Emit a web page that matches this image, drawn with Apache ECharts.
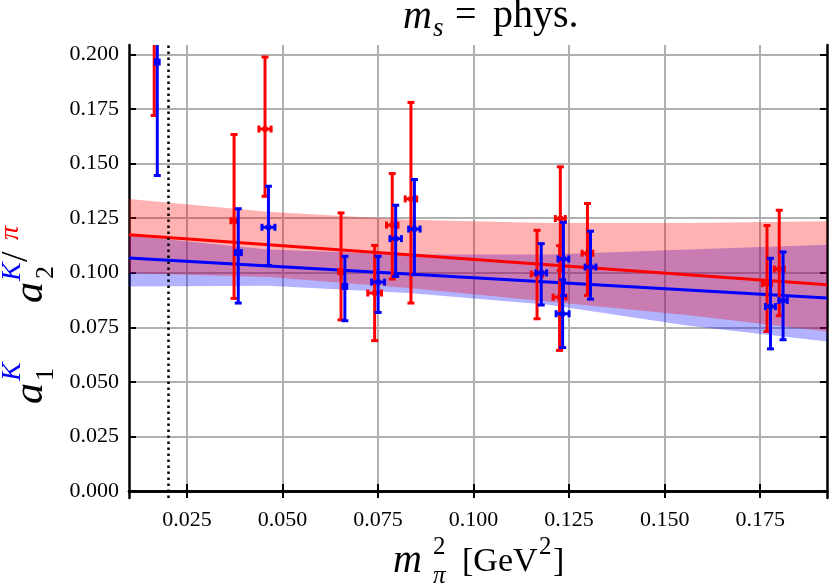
<!DOCTYPE html>
<html>
<head>
<meta charset="utf-8">
<script src="https://cdn.jsdelivr.net/npm/echarts@6/dist/echarts.min.js"></script>
<style>
html,body{margin:0;padding:0;background:#fff;}
#chart{width:830px;height:586px;}
</style>
</head>
<body>
<div id="chart"></div>
<script>
// data (x = m_pi^2 in GeV^2)
var xTicks = [0.025, 0.05, 0.075, 0.1, 0.125, 0.15, 0.175];
var yTicks = [0, 0.025, 0.05, 0.075, 0.1, 0.125, 0.15, 0.175, 0.2];
var physPoint = 0.0188;

var redX    = [0.0164, 0.0373, 0.0454, 0.0653, 0.0741, 0.0787, 0.0836, 0.1166, 0.1227, 0.1225, 0.1298, 0.1768, 0.1800];
var redY    = [0.222, 0.1238, 0.1658, 0.1005, 0.0907, 0.1218, 0.1338, 0.0994, 0.1248, 0.0888, 0.1089, 0.0950, 0.1017];
var redXErr = [0.0005, 0.0008, 0.0016, 0.0006, 0.0018, 0.0015, 0.0015, 0.0015, 0.0013, 0.0017, 0.0014, 0.0012, 0.0013];
var redLo   = [0.172, 0.0882, 0.135, 0.0784, 0.0689, 0.0971, 0.0861, 0.0789, 0.101, 0.0644, 0.0896, 0.0731, 0.0803];
var redHi   = [0.27, 0.1633, 0.1988, 0.1274, 0.1125, 0.1454, 0.178, 0.1194, 0.1485, 0.1124, 0.1317, 0.1216, 0.1286];

var blueX    = [0.0172, 0.0384, 0.0463, 0.0663, 0.0750, 0.0796, 0.0845, 0.1177, 0.1235, 0.1233, 0.1306, 0.1777, 0.1810];
var blueY    = [0.1965, 0.1092, 0.1208, 0.0937, 0.0957, 0.1156, 0.1200, 0.0999, 0.1063, 0.0812, 0.1026, 0.0845, 0.0873];
var blueXErr = [0.0005, 0.0008, 0.0017, 0.0005, 0.0017, 0.0015, 0.0015, 0.0014, 0.0014, 0.0017, 0.0014, 0.0013, 0.0011];
var blueLo   = [0.1445, 0.0861, 0.1033, 0.078, 0.0818, 0.0983, 0.0991, 0.0852, 0.0895, 0.0657, 0.0879, 0.0651, 0.0693];
var blueHi   = [0.249, 0.1293, 0.1396, 0.1075, 0.1075, 0.1309, 0.1427, 0.1133, 0.1231, 0.0967, 0.119, 0.1066, 0.1095];

// fit lines and their error bands
var fitX = [0.0098, 0.1925];
var redFit = [0.1174, 0.0945];
var blueFit = [0.1067, 0.0884];

var bandX = [0.0098, 0.0462, 0.0829, 0.1196, 0.1563, 0.1925];
var redBandHi = [0.1338, 0.1279, 0.1243, 0.1228, 0.1228, 0.1236];
var redBandLo = [0.0998, 0.0980, 0.0930, 0.0868, 0.0805, 0.0731];
var blueBandHi = [0.1170, 0.1106, 0.1083, 0.1083, 0.1106, 0.1128];
var blueBandLo = [0.0937, 0.0940, 0.0907, 0.0853, 0.0757, 0.0685];

var RED = '#ff0000', BLUE = '#0000ff';
var SERIF = 'Liberation Serif';

function zip(xs, ys) {
  return xs.map(function (x, i) { return [x, ys[i]]; });
}

function pointRows(xs, ys, xe, lo, hi) {
  return xs.map(function (x, i) { return [x, ys[i], xe[i], lo[i], hi[i]]; });
}

function errorBar(color) {
  return function (params, api) {
    var x = api.value(0), y = api.value(1), xe = api.value(2);
    var c = api.coord([x, y]);
    var top = api.coord([x, api.value(4)]);
    var bot = api.coord([x, api.value(3)]);
    var l = api.coord([x - xe, y]);
    var r = api.coord([x + xe, y]);
    var cap = 3.5;
    var st = { stroke: color, lineWidth: 3 };
    function seg(x1, y1, x2, y2) {
      return { type: 'line', shape: { x1: x1, y1: y1, x2: x2, y2: y2 }, style: st };
    }
    return {
      type: 'group',
      children: [
        seg(top[0], top[1], bot[0], bot[1]),
        seg(top[0] - cap, top[1], top[0] + cap, top[1]),
        seg(bot[0] - cap, bot[1], bot[0] + cap, bot[1]),
        seg(l[0], l[1], r[0], r[1]),
        seg(l[0], l[1] - cap, l[0], l[1] + cap),
        seg(r[0], r[1] - cap, r[0], r[1] + cap),
        { type: 'rect', shape: { x: c[0] - 2.5, y: c[1] - 2.5, width: 5, height: 5 }, style: { fill: color } }
      ]
    };
  };
}

function band(lo, hi, fill) {
  return function (params, api) {
    var pts = [];
    for (var i = 0; i < bandX.length; i++) pts.push(api.coord([bandX[i], hi[i]]));
    for (var j = bandX.length - 1; j >= 0; j--) pts.push(api.coord([bandX[j], lo[j]]));
    return { type: 'polygon', shape: { points: pts }, style: { fill: fill } };
  };
}

function txt(x, y, text, size, opts) {
  opts = opts || {};
  return {
    type: 'text', x: x, y: y, rotation: opts.rot || 0, z: 100,
    style: {
      text: text, fill: opts.color || '#000',
      font: (opts.italic ? 'italic ' : '') + size + 'px ' + SERIF,
      align: opts.align || 'left', verticalAlign: 'middle'
    }
  };
}

var R = Math.PI / 2;
var labels = [
  // title m_s = phys.
  txt(403, 17, 'm', 40, { italic: true }),
  txt(433, 29, 's', 27, { italic: true }),
  txt(455, 16, '=', 38),
  txt(493, 16, 'phys.', 40),
  // x axis name
  txt(393, 561, 'm', 40, { italic: true }),
  txt(433, 547, '2', 25),
  txt(433, 576, 'π', 25, { italic: true }),
  txt(462, 562, '[GeV', 34),
  txt(539, 547, '2', 25),
  txt(553, 562, ']', 34),
  // y axis name: a_1^K a_2^{K/pi}
  txt(31, 404, 'a', 42, { italic: true, rot: R }),
  txt(46, 381, '1', 26, { rot: R }),
  txt(13, 381, 'K', 28, { italic: true, rot: R, color: BLUE }),
  txt(31, 303, 'a', 42, { italic: true, rot: R }),
  txt(46, 279, '2', 26, { rot: R }),
  txt(13, 281, 'K', 28, { italic: true, rot: R, color: BLUE }),
  txt(17, 262, '/', 38, { rot: R }),
  txt(11, 240, 'π', 28, { italic: true, rot: R, color: RED })
];

var axisLineStyle = { color: '#000', width: 2.5 };
var tickStyle = { color: '#000', width: 2 };
var gridStyle = { color: '#b0b0b0', width: 2 };

var chart = echarts.init(document.getElementById('chart'));
chart.setOption({
  backgroundColor: '#fff',
  animation: false,
  grid: { left: 129, right: 3, top: 45, bottom: 88 },
  xAxis: [{
    type: 'value', min: 0.0098, max: 0.1925, position: 'bottom',
    axisLine: { lineStyle: axisLineStyle },
    axisTick: { inside: true, length: 7, lineStyle: tickStyle, customValues: xTicks },
    axisLabel: {
      customValues: xTicks, margin: 11, color: '#000', fontSize: 22, fontFamily: SERIF,
      formatter: function (v) { return v.toFixed(3); }
    },
    splitLine: { show: true, lineStyle: gridStyle }
  }, {
    type: 'value', min: 0.0098, max: 0.1925, position: 'top',
    axisLine: { lineStyle: axisLineStyle },
    axisTick: { inside: true, length: 7, lineStyle: tickStyle, customValues: xTicks },
    axisLabel: { show: false },
    splitLine: { show: false }
  }],
  yAxis: [{
    type: 'value', min: -0.0032, max: 0.2043, position: 'left',
    axisLine: { show: true, lineStyle: axisLineStyle },
    axisTick: { show: true, inside: true, length: 7, lineStyle: tickStyle, customValues: yTicks },
    axisLabel: {
      customValues: yTicks, margin: 10, color: '#000', fontSize: 22, fontFamily: SERIF,
      formatter: function (v) { return v.toFixed(3); }
    },
    splitLine: { show: true, lineStyle: gridStyle }
  }, {
    type: 'value', min: -0.0032, max: 0.2043, position: 'right',
    axisLine: { show: true, lineStyle: axisLineStyle },
    axisTick: { show: true, inside: true, length: 7, lineStyle: tickStyle, customValues: yTicks },
    axisLabel: { show: false },
    splitLine: { show: false }
  }],
  graphic: labels,
  series: [
    {
      type: 'custom', name: 'blue band', renderItem: band(blueBandLo, blueBandHi, 'rgba(0,0,255,0.3)'),
      data: [[bandX[0], blueBandLo[0]]], clip: true, z: 1, silent: true
    },
    {
      type: 'custom', name: 'red band', renderItem: band(redBandLo, redBandHi, 'rgba(255,0,0,0.3)'),
      data: [[bandX[0], redBandLo[0]]], clip: true, z: 1, silent: true
    },
    {
      type: 'line', name: 'red fit', data: zip(fitX, redFit), symbol: 'none', z: 2,
      lineStyle: { color: RED, width: 3 },
      markLine: {
        silent: true, symbol: 'none', label: { show: false },
        lineStyle: { color: '#000', width: 2.5, type: [2.5, 3.5] },
        data: [{ xAxis: physPoint }]
      }
    },
    {
      type: 'line', name: 'blue fit', data: zip(fitX, blueFit), symbol: 'none', z: 2,
      lineStyle: { color: BLUE, width: 3 }
    },
    {
      type: 'custom', name: 'red points', renderItem: errorBar(RED),
      data: pointRows(redX, redY, redXErr, redLo, redHi), clip: true, z: 3
    },
    {
      type: 'custom', name: 'blue points', renderItem: errorBar(BLUE),
      data: pointRows(blueX, blueY, blueXErr, blueLo, blueHi), clip: true, z: 3
    }
  ]
});
</script>
</body>
</html>
